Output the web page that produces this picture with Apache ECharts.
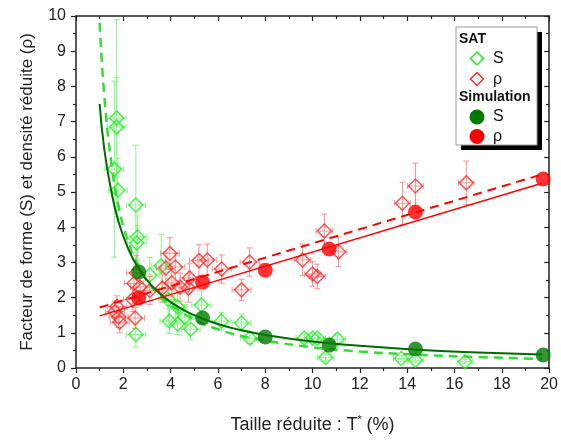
<!DOCTYPE html>
<html><head><meta charset="utf-8">
<script src="https://cdn.jsdelivr.net/npm/echarts@6/dist/echarts.min.js"></script>
<style>html,body{margin:0;padding:0;background:#fff}#c{width:561px;height:442px}</style>
</head><body><div id="c"></div>
<script>
// SAT measurements: shape factor S
const satS_T  = [1.72, 1.72, 1.62, 1.77, 2.53, 2.6, 2.57, 2.53, 3.12, 3.6, 3.95, 4.3, 4.85, 5.3, 4.3, 4.6, 3.9, 6.15, 7.0, 7.35, 9.65, 10.0, 10.2, 11.05, 10.55, 13.75, 14.35, 16.45];
const satS_S  = [7.1, 6.85, 5.65, 5.05, 4.63, 3.72, 3.55, 0.95, 2.64, 2.9, 1.33, 1.25, 1.1, 1.79, 1.73, 1.45, 1.95, 1.33, 1.28, 0.85, 0.85, 0.85, 0.85, 0.82, 0.3, 0.27, 0.22, 0.18];
const satS_eT = [0.4, 0.4, 0.4, 0.4, 0.4, 0.4, 0.4, 0.4, 0.4, 0.4, 0.4, 0.4, 0.4, 0.4, 0.4, 0.4, 0.4, 0.4, 0.4, 0.4, 0.35, 0.35, 0.35, 0.35, 0.35, 0.33, 0.33, 0.33];
const satS_eS = [2.8, 1.4, 2.5, 0.9, 1.7, 0.6, 0.5, 0.35, 0.5, 0.9, 0.35, 0.3, 0.3, 0.4, 0.4, 0.35, 0.6, 0.25, 0.25, 0.15, 0.12, 0.12, 0.12, 0.12, 0.08, 0.08, 0.07, 0.06];
// SAT measurements: reduced density rho
const satR_T  = [1.73, 1.65, 1.8, 1.85, 2.5, 2.4, 2.45, 2.55, 2.7, 3.12, 3.65, 3.8, 3.97, 4.2, 4.05, 4.4, 4.8, 4.75, 5.2, 5.55, 6.16, 7.0, 7.34, 9.58, 10.0, 10.2, 10.5, 11.1, 13.8, 14.35, 16.5];
const satR_R  = [1.75, 1.6, 1.45, 1.3, 1.42, 1.95, 2.4, 2.7, 2.3, 2.2, 2.27, 2.84, 3.25, 2.87, 2.42, 2.3, 2.56, 2.27, 3.05, 3.07, 2.81, 2.22, 3.01, 3.07, 2.67, 2.6, 3.89, 3.3, 4.68, 5.17, 5.26];
const satR_eT = [0.4, 0.4, 0.4, 0.4, 0.4, 0.4, 0.4, 0.4, 0.4, 0.4, 0.4, 0.4, 0.4, 0.4, 0.4, 0.4, 0.4, 0.4, 0.4, 0.4, 0.4, 0.4, 0.4, 0.35, 0.35, 0.35, 0.35, 0.35, 0.33, 0.33, 0.33];
const satR_eR = [0.3, 0.3, 0.3, 0.3, 0.3, 0.35, 0.4, 0.5, 0.4, 0.4, 0.4, 0.45, 0.45, 0.4, 0.4, 0.4, 0.4, 0.4, 0.45, 0.45, 0.4, 0.3, 0.4, 0.45, 0.35, 0.35, 0.48, 0.42, 0.6, 0.65, 0.62];
// Simulation
const simT = [2.65, 5.35, 8.0, 10.7, 14.35, 19.75];
const simS = [2.73, 1.42, 0.88, 0.65, 0.54, 0.37];
const simR = [1.99, 2.44, 2.78, 3.38, 4.43, 5.37];
// Fit curves
const fitSsim_T = [1.0, 1.2, 1.5, 1.8, 2.2, 2.65, 3.2, 4.0, 5.0, 6.0, 7.0, 8.0, 10.0, 12.0, 14.4, 17.0, 19.7];
const fitSsim_S = [7.5, 6.2, 5.0, 4.15, 3.4, 2.82, 2.34, 1.87, 1.5, 1.25, 1.07, 0.94, 0.75, 0.63, 0.52, 0.44, 0.38];
const fitSsat_T = [1.0, 1.2, 1.5, 1.8, 2.2, 2.65, 3.2, 4.0, 5.0, 6.0, 7.0, 8.0, 10.0, 12.0, 14.4, 17.0, 19.7];
const fitSsat_S = [9.8, 7.7, 5.8, 4.6, 3.6, 2.9, 2.3, 1.8, 1.38, 1.1, 0.91, 0.78, 0.59, 0.47, 0.38, 0.31, 0.26];
const fitRsim_T = [1.0, 19.7];
const fitRsim_R = [1.48, 5.25];
const fitRsat_T = [1.0, 19.7];
const fitRsat_R = [1.72, 5.5];
// Axis ticks
const xTicks = [0, 2, 4, 6, 8, 10, 12, 14, 16, 18, 20];
const yTicks = [0, 1, 2, 3, 4, 5, 6, 7, 8, 9, 10];

const FONT = '"Liberation Sans", Arial, sans-serif';
const C_SAT_S = '#22ee22', C_SAT_S_ERR = '#88f588';
const C_SAT_R = '#ff2a2a', C_SAT_R_ERR = '#ff9090';
const C_SIM_S = '#007a00', C_SIM_R = '#ff0000';

function zip(xs, ys) { return xs.map((x, i) => [x, ys[i]]); }
function err(xs, ys, ex, ey) { return xs.map((x, i) => [x, ys[i], ex[i], ey[i]]); }
function errSeries(data, color) {
  return {
    type: 'custom', data, silent: true, z: 1, clip: true,
    encode: { x: 0, y: 1 },
    renderItem(params, api) {
      const x = api.value(0), y = api.value(1), ex = api.value(2), ey = api.value(3);
      const c = api.coord([x, y]), l = api.coord([x - ex, y]), r = api.coord([x + ex, y]);
      const t = api.coord([x, y + ey]), b = api.coord([x, Math.max(0, y - ey)]);
      const cap = 3, style = { stroke: color, lineWidth: 1 };
      const ln = (x1, y1, x2, y2) => ({ type: 'line', shape: { x1, y1, x2, y2 }, style });
      return { type: 'group', children: [
        ln(l[0], c[1], r[0], c[1]), ln(l[0], c[1] - cap, l[0], c[1] + cap), ln(r[0], c[1] - cap, r[0], c[1] + cap),
        ln(c[0], t[1], c[0], b[1]), ln(c[0] - cap, t[1], c[0] + cap, t[1]), ln(c[0] - cap, b[1], c[0] + cap, b[1])
      ]};
    }
  };
}

const axisLine = { show: true, onZero: false, lineStyle: { color: '#222', width: 1.5 } };
const baseX = { type: 'value', min: xTicks[0], max: xTicks[xTicks.length - 1], interval: 2, splitLine: { show: false } };
const baseY = { type: 'value', min: yTicks[0], max: yTicks[yTicks.length - 1], interval: 1, splitLine: { show: false } };

const chart = echarts.init(document.getElementById('c'));
chart.setOption({
  animation: false,
  backgroundColor: '#fff',
  grid: { left: 76, right: 11, top: 16, bottom: 74 },
  xAxis: [
    Object.assign({}, baseX, {
      position: 'bottom', axisLine,
      axisTick: { show: true, length: 5, lineStyle: { color: '#222', width: 1.2 } },
      minorTick: { show: true, splitNumber: 2, length: 3, lineStyle: { color: '#222', width: 1.2 } },
      axisLabel: { fontFamily: FONT, fontSize: 16, color: '#222', margin: 9 },
      name: 'Taille réduite : T{sup|*} (%)', nameLocation: 'middle', nameGap: 47,
      nameTextStyle: { fontFamily: FONT, fontSize: 18, color: '#222',
        rich: { sup: { fontFamily: FONT, fontSize: 10, verticalAlign: 'top', padding: [0, 0, 10, 0], color: '#222' } } }
    }),
    Object.assign({}, baseX, {
      position: 'top', axisLine,
      axisTick: { show: true, inside: true, length: 5, lineStyle: { color: '#222', width: 1.2 } },
      minorTick: { show: true, splitNumber: 2, length: 3, lineStyle: { color: '#222', width: 1.2 } },
      axisLabel: { show: false }
    })
  ],
  yAxis: [
    Object.assign({}, baseY, {
      position: 'left', axisLine,
      axisTick: { show: true, length: 5, lineStyle: { color: '#222', width: 1.2 } },
      minorTick: { show: true, splitNumber: 2, length: 3, lineStyle: { color: '#222', width: 1.2 } },
      axisLabel: { fontFamily: FONT, fontSize: 16, color: '#222', margin: 10 },
      name: 'Facteur de forme (S) et densité réduite (ρ)', nameLocation: 'middle', nameGap: 40,
      nameTextStyle: { fontFamily: FONT, fontSize: 17, color: '#222' }
    }),
    Object.assign({}, baseY, {
      position: 'right', axisLine,
      axisTick: { show: true, inside: true, length: 5, lineStyle: { color: '#222', width: 1.2 } },
      minorTick: { show: true, splitNumber: 2, length: 3, lineStyle: { color: '#222', width: 1.2 } },
      axisLabel: { show: false }
    })
  ],
  series: [
    errSeries(err(satS_T, satS_S, satS_eT, satS_eS), C_SAT_S_ERR),
    errSeries(err(satR_T, satR_R, satR_eT, satR_eR), C_SAT_R_ERR),
    { type: 'scatter', name: 'S SAT', data: zip(satS_T, satS_S), symbol: 'diamond', symbolSize: 14, z: 2,
      itemStyle: { color: 'rgba(255,255,255,0)', borderColor: C_SAT_S, borderWidth: 1.5 } },
    { type: 'scatter', name: 'ρ SAT', data: zip(satR_T, satR_R), symbol: 'diamond', symbolSize: 14, z: 2,
      itemStyle: { color: 'rgba(255,255,255,0)', borderColor: C_SAT_R, borderWidth: 1.5 } },
    { type: 'line', data: zip(fitSsat_T, fitSsat_S), smooth: true, symbol: 'none', z: 3, clip: true,
      lineStyle: { color: '#33dd33', width: 2.5, type: [9, 6] } },
    { type: 'line', data: zip(fitSsim_T, fitSsim_S), smooth: true, symbol: 'none', z: 3, clip: true,
      lineStyle: { color: '#006a00', width: 2 } },
    { type: 'line', data: zip(fitRsat_T, fitRsat_R), symbol: 'none', z: 3,
      lineStyle: { color: C_SIM_R, width: 2, type: [9, 6] } },
    { type: 'line', data: zip(fitRsim_T, fitRsim_R), symbol: 'none', z: 3,
      lineStyle: { color: C_SIM_R, width: 1.5 } },
    { type: 'scatter', name: 'S Simulation', data: zip(simT, simS), symbol: 'circle', symbolSize: 15, z: 4,
      itemStyle: { color: C_SIM_S } },
    { type: 'scatter', name: 'ρ Simulation', data: zip(simT, simR), symbol: 'circle', symbolSize: 15, z: 4,
      itemStyle: { color: C_SIM_R } }
  ],
  graphic: [
    { type: 'rect', z: 10, shape: { x: 461, y: 32, width: 81, height: 118 }, style: { fill: '#000' } },
    { type: 'rect', z: 11, shape: { x: 456, y: 27, width: 81, height: 118 }, style: { fill: '#fff', stroke: '#9a9a9a', lineWidth: 1 } },
    { type: 'text', z: 12, x: 459, y: 39, style: { text: 'SAT', font: 'bold 14px ' + FONT, fill: '#111', verticalAlign: 'middle' } },
    { type: 'polygon', z: 12, shape: { points: [[477, 52], [483.5, 58.5], [477, 65], [470.5, 58.5]] }, style: { fill: 'none', stroke: C_SAT_S, lineWidth: 1.5 } },
    { type: 'text', z: 12, x: 493, y: 59, style: { text: 'S', font: '16px ' + FONT, fill: '#111', verticalAlign: 'middle' } },
    { type: 'polygon', z: 12, shape: { points: [[477, 72.5], [483.5, 79], [477, 85.5], [470.5, 79]] }, style: { fill: 'none', stroke: C_SAT_R, lineWidth: 1.5 } },
    { type: 'text', z: 12, x: 493, y: 80, style: { text: 'ρ', font: '16px ' + FONT, fill: '#111', verticalAlign: 'middle' } },
    { type: 'text', z: 12, x: 459, y: 97, style: { text: 'Simulation', font: 'bold 14px ' + FONT, fill: '#111', verticalAlign: 'middle' } },
    { type: 'circle', z: 12, shape: { cx: 477, cy: 117, r: 7.5 }, style: { fill: C_SIM_S } },
    { type: 'text', z: 12, x: 493, y: 117, style: { text: 'S', font: '16px ' + FONT, fill: '#111', verticalAlign: 'middle' } },
    { type: 'circle', z: 12, shape: { cx: 477, cy: 136.5, r: 7.5 }, style: { fill: C_SIM_R } },
    { type: 'text', z: 12, x: 493, y: 137, style: { text: 'ρ', font: '16px ' + FONT, fill: '#111', verticalAlign: 'middle' } }
  ]
});
</script></body></html>
